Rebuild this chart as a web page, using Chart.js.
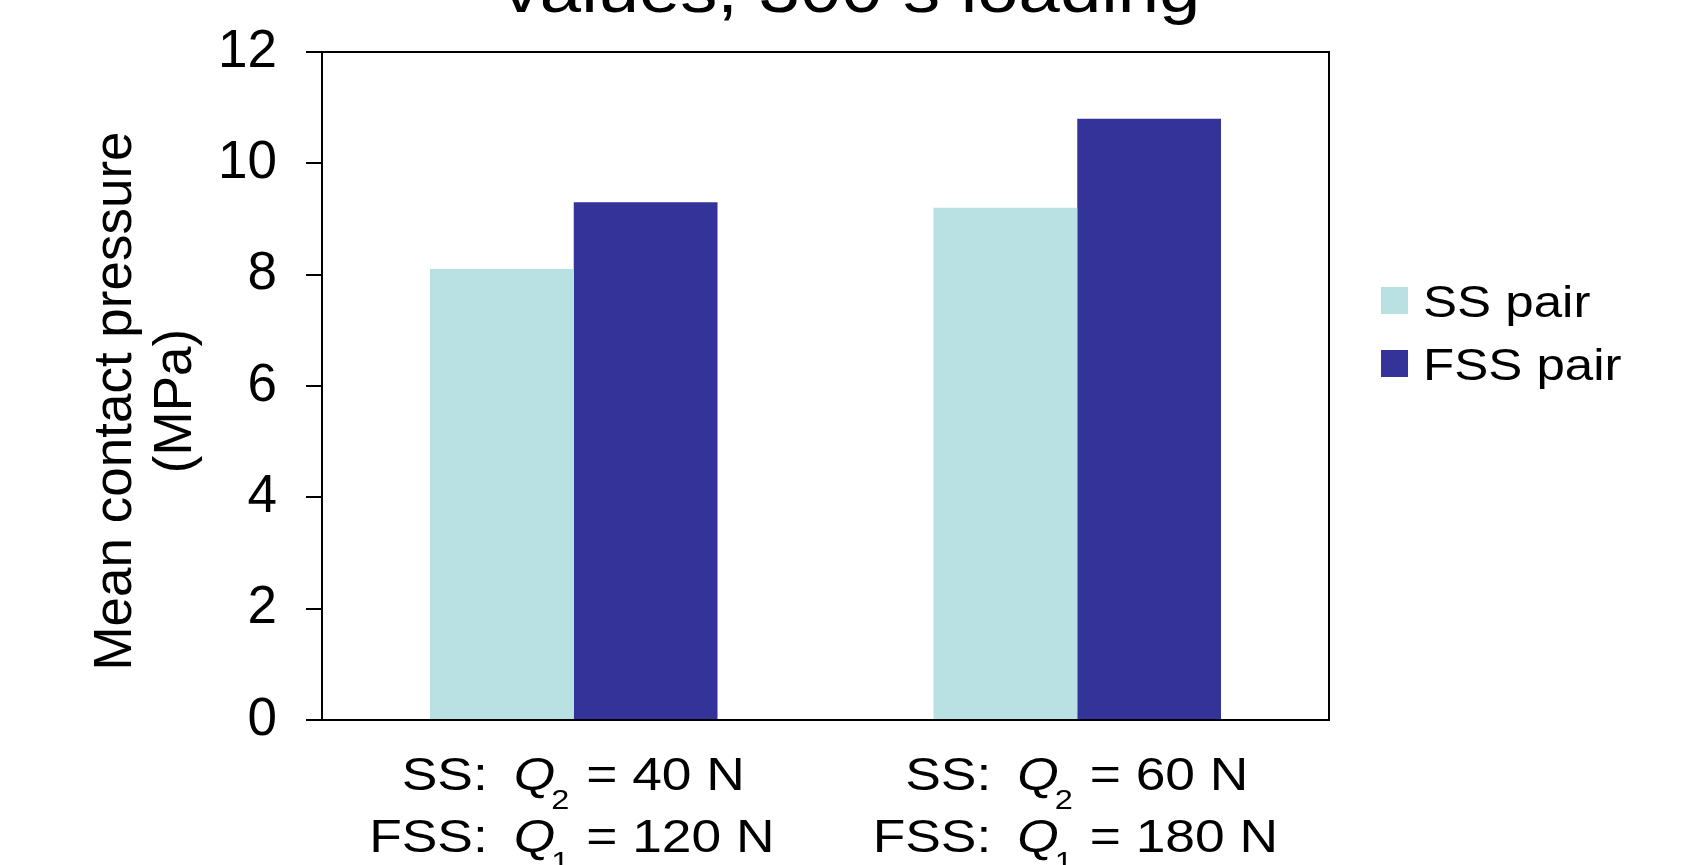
<!DOCTYPE html>
<html>
<head>
<meta charset="utf-8">
<title>Mean contact pressure</title>
<script src="https://cdn.jsdelivr.net/npm/chart.js@4.4.1/dist/chart.umd.min.js"></script>
<style>
    html, body { margin: 0; padding: 0; background: #fff; }
    #wrap { width: 1703px; height: 865px; position: relative; overflow: hidden; }
</style>
</head>
<body>
<div id="wrap"><canvas id="pressureChart" width="1703" height="865"></canvas></div>
<script>
// Chart data
const chartTitle = 'values, 300 s loading';
const categories = [
    ['SS: Q₂ = 40 N', 'FSS: Q₁ = 120 N'],
    ['SS: Q₂ = 60 N', 'FSS: Q₁ = 180 N']
];
const seriesNames = ['SS pair', 'FSS pair'];
const ssPair = [8.1, 9.2];
const fssPair = [9.3, 10.8];
const seriesColors = ['#b9e0e3', '#333399'];
const yTitle = ['Mean contact pressure', '(MPa)'];
const yMin = 0, yMax = 12, yStep = 2;

const FONT = '"Liberation Sans", Arial, sans-serif';
const STRETCH = 1.16; // text in the original looks a bit wider than Arial

Chart.defaults.font.family = FONT;
Chart.defaults.color = '#000';

// draw a string stretched horizontally; align: 'left' | 'right' | 'center'
function drawText(ctx, text, x, y, font, align) {
    ctx.save();
    ctx.font = font;
    const w = ctx.measureText(text).width * STRETCH;
    let x0 = x;
    if (align === 'right') x0 = x - w;
    if (align === 'center') x0 = x - w / 2;
    ctx.translate(x0, y);
    ctx.scale(STRETCH, 1);
    ctx.textAlign = 'left';
    ctx.textBaseline = 'alphabetic';
    ctx.fillText(text, 0, 0);
    ctx.restore();
    return w;
}

const subMap = { '₁': '1', '₂': '2' };

// Title, axis title, legend, x labels with italic Q + subscript, and the plot frame
const decorations = {
    id: 'decorations',
    afterDraw(chart) {
        const { ctx, chartArea } = chart;
        ctx.save();
        ctx.fillStyle = '#000';

        // title (first line falls outside the picture)
        drawText(ctx, chartTitle, chart.width / 2, 12, '64px ' + FONT, 'center');

        // y axis title, a little below the middle of the plot
        const midY = (chartArea.top + chartArea.bottom) / 2 + 15;
        yTitle.forEach((line, i) => {
            ctx.save();
            ctx.translate(116 + i * 60, midY);
            ctx.rotate(-Math.PI / 2);
            ctx.font = '53px ' + FONT;
            ctx.textAlign = 'center';
            ctx.textBaseline = 'middle';
            ctx.fillText(line, 0, 0);
            ctx.restore();
        });

        // frame
        ctx.strokeStyle = '#000';
        ctx.lineWidth = 2;
        ctx.strokeRect(chartArea.left, chartArea.top, chartArea.right - chartArea.left, chartArea.bottom - chartArea.top);

        // x labels
        const xScale = chart.scales.x;
        const main = '46px ' + FONT;
        const ital = 'italic 46px ' + FONT;
        const sub = '28px ' + FONT;
        categories.forEach((lines, i) => {
            const cx = xScale.getPixelForValue(i);
            lines.forEach((line, j) => {
                const y = chartArea.bottom + 70 + j * 62;
                const cut = line.indexOf(':') + 1;
                const prefix = line.slice(0, cut);
                const rest = line.slice(cut).trim();
                drawText(ctx, prefix, cx - 86, y, main, 'right');
                const m = rest.match(/^Q([₁₂])(.*)$/);
                let x = cx - 60;
                x += drawText(ctx, 'Q', x, y, ital, 'left') - 4;
                x += drawText(ctx, subMap[m[1]], x, y + 19, sub, 'left') + 2;
                drawText(ctx, m[2], x, y, main, 'left');
            });
        });

        // legend
        chart.data.datasets.forEach((ds, i) => {
            const top = chartArea.top + 235 + i * 63;
            ctx.fillStyle = ds.backgroundColor;
            ctx.fillRect(chartArea.right + 52, top, 27, 27);
            ctx.fillStyle = '#000';
            drawText(ctx, ds.label, chartArea.right + 94, top + 30, '44px ' + FONT, 'left');
        });
        ctx.restore();
    }
};

const ctx = document.getElementById('pressureChart').getContext('2d');
new Chart(ctx, {
    type: 'bar',
    data: {
        labels: categories,
        datasets: [
            { label: seriesNames[0], data: ssPair, backgroundColor: seriesColors[0] },
            { label: seriesNames[1], data: fssPair, backgroundColor: seriesColors[1] }
        ]
    },
    options: {
        responsive: false,
        animation: false,
        layout: { padding: { top: 52, right: 374, bottom: 0, left: 0 } },
        datasets: {
            bar: { categoryPercentage: 0.571, barPercentage: 1, borderWidth: 0 }
        },
        plugins: {
            legend: { display: false },
            title: { display: false },
            tooltip: { enabled: false }
        },
        scales: {
            x: {
                afterFit(scale) { scale.height = 145; scale.paddingLeft = 0; scale.paddingRight = 0; },
                ticks: { display: false },
                grid: { display: true, drawOnChartArea: false, drawTicks: false },
                border: { display: true, color: '#000', width: 2 }
            },
            y: {
                min: yMin,
                max: yMax,
                afterFit(scale) { scale.width = 322; scale.paddingTop = 0; scale.paddingBottom = 0; },
                ticks: {
                    stepSize: yStep,
                    padding: 29,
                    font: { size: 53 },
                    color: '#000'
                },
                grid: { drawOnChartArea: false, drawTicks: true, tickLength: 16, color: '#000', lineWidth: 2 },
                border: { display: true, color: '#000', width: 2 },
                title: { display: false }
            }
        }
    },
    plugins: [decorations]
});
</script>
</body>
</html>
